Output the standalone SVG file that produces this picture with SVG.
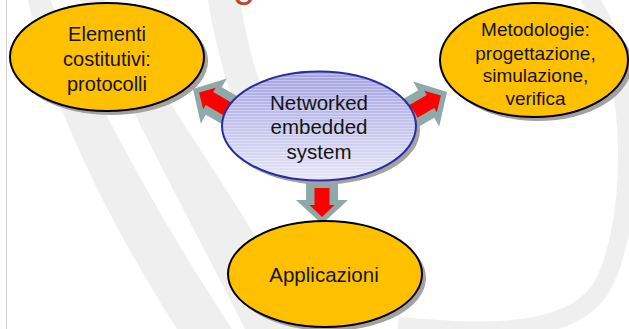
<svg xmlns="http://www.w3.org/2000/svg" width="629" height="329" viewBox="0 0 629 329">
  <defs>
    <style>
      .band { fill: #efefef; }
      .shadow { fill: #a2a2a2; }
      .gold { fill: #ffc000; stroke: #000; stroke-width: 2; }
      .label { font-family: "Liberation Sans", Arial, sans-serif; fill: #141414; text-anchor: middle; }
      .arrow-back { fill: #8fa8a8; }
      .arrow-front { fill: #ff0000; }
    </style>
    <linearGradient id="lavender" x1="0" y1="0" x2="0" y2="1">
      <stop offset="0" stop-color="#a2a2e2"/>
      <stop offset="1" stop-color="#e6e6f8"/>
    </linearGradient>
    <pattern id="lines" width="4" height="3" patternUnits="userSpaceOnUse">
      <rect x="0" y="2" width="4" height="1" fill="#ffffff" fill-opacity="0.35"/>
    </pattern>
    <!-- block arrow pointing along +x, tip at the origin -->
    <g id="blockArrow">
      <polygon class="arrow-back" points="0,0 -24,-26 -24,-16 -60,-16 -60,16 -24,16 -24,26"/>
      <polygon class="arrow-front" points="-7,0 -19,-12.5 -19,-7.5 -40,-7.5 -40,7.5 -19,7.5 -19,12.5"/>
    </g>
    <g id="blockArrowShort">
      <polygon class="arrow-back" points="0,0 -24,-26 -24,-16 -60,-16 -60,16 -24,16 -24,26"/>
      <polygon class="arrow-front" points="-7,0 -19,-12.5 -19,-7.5 -36,-7.5 -36,7.5 -19,7.5 -19,12.5"/>
    </g>
  </defs>

  <!-- slide background -->
  <rect width="629" height="329" fill="#ffffff"/>
  <g id="background">
    <path class="band" d="M28,0 L50,0 C90,90 160,220 232,329 L177,329 C120,240 50,110 28,0 Z"/>
    <path class="band" d="M80,0 L104,0 C160,90 250,220 310,329 L245,329 C200,240 120,90 80,0 Z"/>
    <path class="band" d="M208,0 L240,0 C250,60 262,90 270,110 L240,120 C225,80 214,40 208,0 Z"/>
    <path d="M588,-4 C640,70 636,230 600,290 C565,340 470,332 398,326" fill="none" stroke="#efefef" stroke-width="18"/>
    <line x1="6.5" y1="0" x2="6.5" y2="329" stroke="#d4d4d4" stroke-width="1"/>
    <text x="233" y="-3" font-family="Liberation Sans, Arial, sans-serif" font-size="40" fill="#c04a30">g</text>
  </g>

  <!-- connectors -->
  <g id="connectors">
    <use href="#blockArrow" transform="translate(193,89) rotate(210)"/>
    <use href="#blockArrow" transform="translate(447,92) rotate(-30)"/>
    <use href="#blockArrowShort" transform="translate(322,224) rotate(90)"/>
  </g>

  <g id="node-elementi">
    <ellipse class="shadow" cx="111" cy="61" rx="97" ry="54"/>
    <ellipse class="gold" cx="107" cy="57" rx="97" ry="54"/>
    <text class="label" font-size="20" x="107" y="41.3">Elementi</text>
    <text class="label" font-size="20" x="107" y="65.7">costitutivi:</text>
    <text class="label" font-size="20" x="107" y="90.5">protocolli</text>
  </g>

  <g id="node-metodologie">
    <ellipse class="shadow" cx="538" cy="64" rx="94" ry="57"/>
    <ellipse class="gold" cx="534" cy="60" rx="94" ry="57"/>
    <text class="label" font-size="19" x="535.5" y="36">Metodologie:</text>
    <text class="label" font-size="19" x="535.5" y="59.5">progettazione,</text>
    <text class="label" font-size="19" x="535.5" y="82">simulazione,</text>
    <text class="label" font-size="19" x="535.5" y="104.5">verifica</text>
  </g>

  <g id="node-networked">
    <ellipse class="shadow" cx="323" cy="130" rx="97" ry="54.5"/>
    <ellipse cx="319" cy="126" rx="97" ry="54.5" fill="url(#lavender)"/>
    <ellipse cx="319" cy="126" rx="97" ry="54.5" fill="url(#lines)" stroke="#2c2c9c" stroke-width="2"/>
    <text class="label" font-size="20.5" x="319" y="110">Networked</text>
    <text class="label" font-size="20.5" x="319" y="134">embedded</text>
    <text class="label" font-size="20.5" x="319" y="159">system</text>
  </g>

  <g id="node-applicazioni">
    <ellipse class="shadow" cx="329" cy="278" rx="97" ry="53"/>
    <ellipse class="gold" cx="325" cy="274" rx="97" ry="53"/>
    <text class="label" font-size="20.5" x="324" y="282">Applicazioni</text>
  </g>
</svg>
